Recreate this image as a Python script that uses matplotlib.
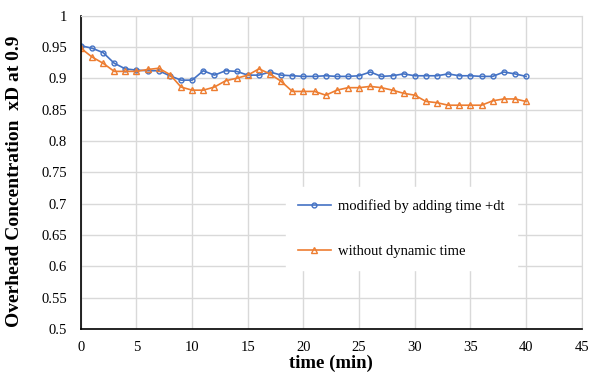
import matplotlib.pyplot as plt

plt.rcParams["font.family"] = ["Liberation Serif", "DejaVu Serif"]

t = list(range(41))
modified = [0.952, 0.948, 0.941, 0.924, 0.915, 0.913, 0.912, 0.912, 0.904, 0.897,
            0.897, 0.912, 0.905, 0.912, 0.911, 0.905, 0.905, 0.910, 0.905, 0.904,
            0.903, 0.903, 0.904, 0.903, 0.903, 0.904, 0.910, 0.903, 0.904, 0.907,
            0.904, 0.904, 0.904, 0.907, 0.904, 0.904, 0.903, 0.903, 0.910, 0.907,
            0.903]
without = [0.948, 0.934, 0.924, 0.911, 0.911, 0.911, 0.914, 0.916, 0.906, 0.886,
           0.881, 0.881, 0.886, 0.896, 0.900, 0.905, 0.915, 0.907, 0.895, 0.879,
           0.879, 0.879, 0.873, 0.881, 0.885, 0.885, 0.887, 0.885, 0.881, 0.876,
           0.873, 0.863, 0.861, 0.857, 0.857, 0.857, 0.857, 0.864, 0.867, 0.867,
           0.863]

fig = plt.figure(figsize=(5.9, 3.72), dpi=100)
ax = fig.add_axes([0.137, 0.116, 0.849, 0.842])

ax.plot(t, modified, '-o', color='#4472C4', markersize=3.5, markerfacecolor='none',
        markeredgewidth=1, linewidth=1.2, label='modified by adding time +dt')
ax.plot(t, without, '-^', color='#ED7D31', markersize=3.8, markerfacecolor='none',
        markeredgewidth=1, linewidth=1.2, label='without dynamic time')

ax.set_xlim(0, 45)
ax.set_ylim(0.5, 1)
ax.set_xticks(range(0, 46, 5))
ax.set_yticks([0.5, 0.55, 0.6, 0.65, 0.7, 0.75, 0.8, 0.85, 0.9, 0.95, 1])
ax.set_yticklabels(['0.5', '0.55', '0.6', '0.65', '0.7', '0.75', '0.8', '0.85', '0.9', '0.95', '1'])
ax.tick_params(axis='x', length=0, labelsize=10.5, pad=9)
ax.tick_params(axis='y', length=0, labelsize=10.5, pad=10)
ax.grid(True, color='#d9d9d9', linewidth=1)
ax.set_axisbelow(True)
for s in ['top', 'right']:
    ax.spines[s].set_color('#d9d9d9')
for s in ['left', 'bottom']:
    ax.spines[s].set_color('black')
    ax.spines[s].set_linewidth(1.2)

ax.set_xlabel('time (min)', fontsize=13.5, fontweight='bold', labelpad=0)
ax.set_ylabel('Overhead Concentration  xD at 0.9', fontsize=14, fontweight='bold', labelpad=5)
ax.yaxis.set_label_coords(-0.115, 0.47)

leg = ax.legend(loc='upper left', bbox_to_anchor=(0.395, 0.475), frameon=True,
                fontsize=10.5, labelspacing=2.2, handlelength=2.3, handletextpad=0.5,
                borderpad=0.8, fancybox=False)
leg.get_frame().set_edgecolor('white')
leg.get_frame().set_alpha(1)

fig.savefig('out.png', dpi=100)
